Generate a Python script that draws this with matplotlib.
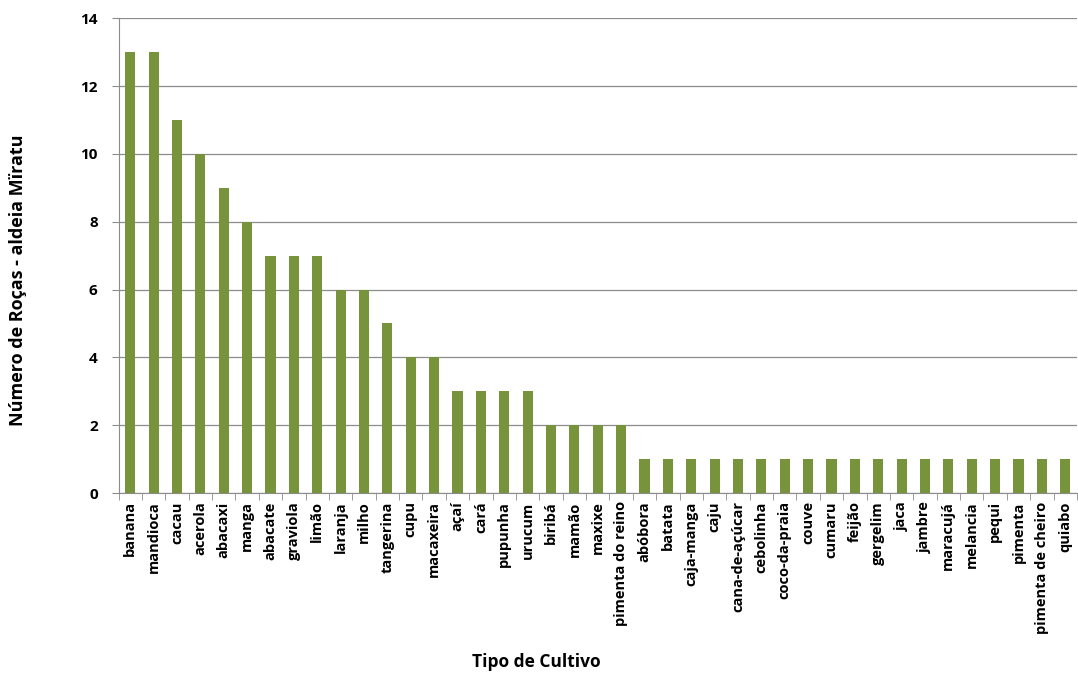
import numpy as np
import matplotlib.pyplot as plt

cultivos = ['banana', 'mandioca', 'cacau', 'acerola', 'abacaxi', 'manga', 'abacate',
            'graviola', 'limão', 'laranja', 'milho', 'tangerina', 'cupu', 'macaxeira',
            'açaí', 'cará', 'pupunha', 'urucum', 'biribá', 'mamão', 'maxixe',
            'pimenta do reino', 'abóbora', 'batata', 'caja-manga', 'caju',
            'cana-de-açúcar', 'cebolinha', 'coco-da-praia', 'couve', 'cumaru', 'feijão',
            'gergelim', 'jaca', 'jambre', 'maracujá', 'melancia', 'pequi', 'pimenta',
            'pimenta de cheiro', 'quiabo']
rocas = [13, 13, 11, 10, 9, 8, 7, 7, 7, 6, 6, 5, 4, 4, 3, 3, 3, 3, 2, 2, 2, 2,
         1, 1, 1, 1, 1, 1, 1, 1, 1, 1, 1, 1, 1, 1, 1, 1, 1, 1, 1]
yticks = [0, 2, 4, 6, 8, 10, 12, 14]

plt.rcParams['font.family'] = ['Open Sans', 'DejaVu Sans']

fig = plt.figure(figsize=(10.78, 6.74), dpi=100)
ax = fig.add_axes([0.110, 0.2685, 0.889, 0.7045])
x = np.arange(len(cultivos))
ax.bar(x, rocas, width=0.43, color='#77933C', zorder=3)

ax.set_xlim(-0.5, len(cultivos) - 0.5)
ax.set_ylim(0, 14)
ax.set_yticks(yticks)
ax.set_yticklabels([str(v) for v in yticks], fontsize=11, fontweight='bold')
ax.yaxis.grid(True, color='#8c8c8c', linewidth=0.9, zorder=0)

# category labels centered, tick marks on category boundaries
ax.set_xticks(x)
ax.set_xticklabels(cultivos, rotation=90, fontsize=10.5, fontweight='bold')
ax.tick_params(axis='x', length=0, pad=6)
ax.set_xticks(np.arange(-0.5, len(cultivos)), minor=True)
ax.tick_params(axis='x', which='minor', length=5, color='#8c8c8c')
ax.tick_params(axis='y', length=5, color='#8c8c8c', pad=10)

for s in ['top', 'right']:
    ax.spines[s].set_visible(False)
for s in ['left', 'bottom']:
    ax.spines[s].set_color('#8c8c8c')

fig.text(536 / 1078, 1 - 662 / 674, 'Tipo de Cultivo', fontsize=12.5, fontweight='bold',
         ha='center', va='center')
fig.text(18 / 1078, 1 - 280 / 674, 'Número de Roças - aldeia Mïratu', fontsize=13,
         fontweight='bold', rotation=90, ha='center', va='center')

fig.savefig('out.png', dpi=100, facecolor='white')
